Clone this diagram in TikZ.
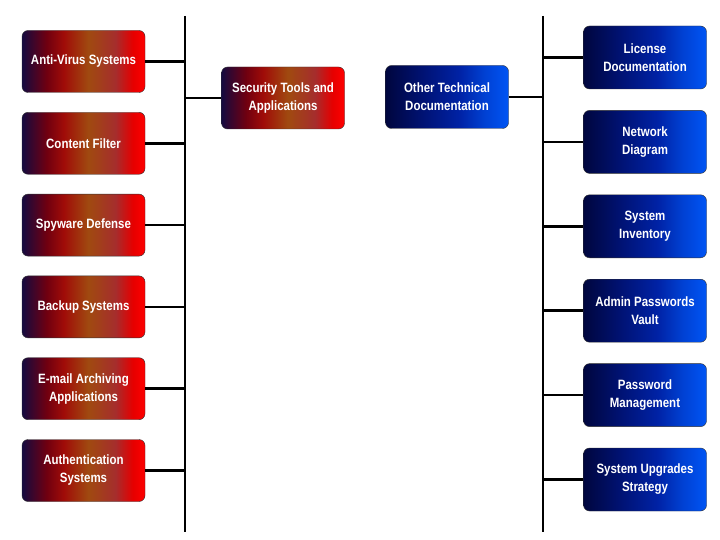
\documentclass[tikz,border=0pt]{standalone}
\usepackage{fontspec}
\setmainfont{Liberation Sans}
\newfontfamily\boxfont[FakeStretch=0.85]{Liberation Sans}
\usetikzlibrary{positioning}
\definecolor{navycol}{RGB}{20,10,64}
\definecolor{dkred}{RGB}{112,0,16}
\definecolor{rustcol}{RGB}{160,12,8}
\definecolor{brncol}{RGB}{160,74,16}
\definecolor{mutedred}{RGB}{165,45,45}
\definecolor{redcol}{RGB}{255,0,0}
\definecolor{dkblue}{RGB}{0,6,62}
\definecolor{midblue}{RGB}{0,18,115}
\definecolor{blue3}{RGB}{0,34,165}
\definecolor{blue4}{RGB}{0,64,210}
\definecolor{ltblue}{RGB}{0,85,245}
\pgfdeclarehorizontalshading{redfade}{100bp}{color(0bp)=(navycol); color(25bp)=(navycol);
  color(35bp)=(dkred); color(42bp)=(rustcol); color(52bp)=(brncol);
  color(63bp)=(mutedred); color(70bp)=(redcol!90!black); color(75bp)=(redcol); color(100bp)=(redcol)}
\pgfdeclarehorizontalshading{bluefade}{100bp}{color(0bp)=(dkblue); color(25bp)=(dkblue);
  color(40bp)=(midblue); color(55bp)=(blue3); color(65bp)=(blue4);
  color(75bp)=(ltblue); color(100bp)=(ltblue)}
\tikzset{
  toolbox/.style={rectangle, rounded corners=6pt, draw=black!80, thin,
    shading=redfade, text=white, align=center, minimum width=123pt, minimum height=62pt,
    inner sep=2pt, font=\boxfont\bfseries\fontsize{13.5}{18}\selectfont},
  docbox/.style={rectangle, rounded corners=6pt, draw=black!80, thin,
    shading=bluefade, text=white, align=center, minimum width=123pt, minimum height=63pt,
    inner sep=2pt, font=\boxfont\bfseries\fontsize{13.5}{18}\selectfont},
  link/.style={line width=2.6pt},
}

\begin{document}
\begin{tikzpicture}[x=1pt, y=1pt]
  \useasboundingbox (0,0) rectangle (720,-540);

  % bus lines
  \coordinate (ltop) at (185,-16);
  \coordinate (lbot) at (185,-532);
  \coordinate (rtop) at (543,-16);
  \coordinate (rbot) at (543,-532);
  \draw[link] (ltop) -- (lbot);
  \draw[link] (rtop) -- (rbot);

  % security tools
  \node[toolbox] (antivirus) at (83.5,-61.5) {Anti-Virus Systems};
  \node[toolbox, below=19.4pt of antivirus] (content) {Content Filter};
  \node[toolbox, below=19.4pt of content] (spyware) {Spyware Defense};
  \node[toolbox, below=19.4pt of spyware] (backup) {Backup Systems};
  \node[toolbox, below=19.4pt of backup] (email) {E-mail Archiving\\Applications};
  \node[toolbox, below=19.4pt of email] (auth) {Authentication\\Systems};

  \node[toolbox] (sectools) at (283,-98) {Security Tools and\\Applications};

  % technical documentation
  \node[docbox] (otherdoc) at (447,-97) {Other Technical\\Documentation};

  \node[docbox] (license) at (645,-57.5) {License\\Documentation};
  \node[docbox, below=21pt of license] (netdiag) {Network\\Diagram};
  \node[docbox, below=21pt of netdiag] (inventory) {System\\Inventory};
  \node[docbox, below=21pt of inventory] (vault) {Admin Passwords\\Vault};
  \node[docbox, below=21pt of vault] (pwmgmt) {Password\\Management};
  \node[docbox, below=21pt of pwmgmt] (upgrades) {System Upgrades\\Strategy};

  \draw[link] (antivirus.east) -- (antivirus.east -| ltop);
  \draw[link] (content.east) -- (content.east -| ltop);
  \draw[link] (spyware.east) -- (spyware.east -| ltop);
  \draw[link] (backup.east) -- (backup.east -| ltop);
  \draw[link] (email.east) -- (email.east -| ltop);
  \draw[link] (auth.east) -- (auth.east -| ltop);
  \draw[link] (sectools.west -| ltop) -- (sectools.west);

  \draw[link] (otherdoc.east) -- (otherdoc.east -| rtop);
  \draw[link] (license.west -| rtop) -- (license.west);
  \draw[link] (netdiag.west -| rtop) -- (netdiag.west);
  \draw[link] (inventory.west -| rtop) -- (inventory.west);
  \draw[link] (vault.west -| rtop) -- (vault.west);
  \draw[link] (pwmgmt.west -| rtop) -- (pwmgmt.west);
  \draw[link] (upgrades.west -| rtop) -- (upgrades.west);
\end{tikzpicture}
\end{document}
